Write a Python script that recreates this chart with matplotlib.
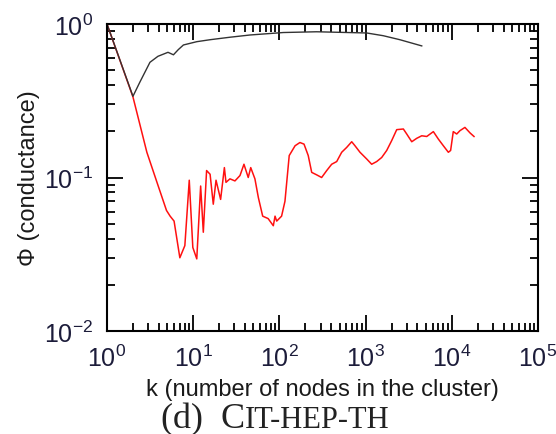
import matplotlib
matplotlib.use('Agg')
import matplotlib.pyplot as plt
from matplotlib.ticker import LogLocator, NullFormatter

# ---- data ----
k_red = [1, 2, 2.9, 3.8, 4.9, 5.4, 6.0, 7.0, 8.0, 9.0, 9.9, 11.0, 12.2, 13.1, 14.3,
         15.7, 17.1, 18.4, 20.8, 23.0, 24.0, 26.7, 30.5, 34.9, 38.8, 43.5, 46.5, 52,
         57, 64, 74, 85, 89, 93, 106, 116, 130, 152, 173, 193, 216, 237, 271, 309,
         354, 404, 462, 528, 603, 690, 753, 861, 1030, 1176, 1344, 1537, 1757, 2008,
         2296, 2742, 3000, 3430, 3920, 4480, 5120, 6110, 6980, 7980, 9120, 9690,
         10400, 11400, 12450, 14200, 16300, 18100]
phi_red = [1.0, 0.335, 0.146, 0.093, 0.061, 0.056, 0.052, 0.030, 0.036, 0.096, 0.035,
           0.0295, 0.088, 0.044, 0.111, 0.105, 0.067, 0.096, 0.072, 0.116, 0.093, 0.098,
           0.095, 0.103, 0.122, 0.100, 0.116, 0.098, 0.074, 0.056, 0.054, 0.0485, 0.056,
           0.052, 0.056, 0.070, 0.139, 0.161, 0.169, 0.165, 0.139, 0.108, 0.104, 0.100,
           0.111, 0.122, 0.127, 0.146, 0.157, 0.171, 0.161, 0.146, 0.132, 0.122, 0.127,
           0.135, 0.150, 0.174, 0.205, 0.207, 0.192, 0.171, 0.180, 0.187, 0.185, 0.199,
           0.178, 0.161, 0.146, 0.150, 0.199, 0.192, 0.202, 0.212, 0.195, 0.185]

k_black = [1, 2, 2.4, 3.15, 3.9, 5.1, 5.9, 6.7, 7.7, 11, 15.7, 26.7, 45.6, 111, 270,
           1030, 1600, 2500, 4480]
phi_black = [1.0, 0.338, 0.417, 0.563, 0.616, 0.654, 0.63, 0.68, 0.73, 0.767, 0.79,
             0.82, 0.848, 0.88, 0.89, 0.874, 0.839, 0.79, 0.72]

x_ticks = [1, 10, 100, 1000, 10000, 100000]
x_tick_labels = ['$10^{0}$', '$10^{1}$', '$10^{2}$', '$10^{3}$', '$10^{4}$', '$10^{5}$']
y_ticks = [0.01, 0.1, 1]
y_tick_labels = ['$10^{-2}$', '$10^{-1}$', '$10^{0}$']

x_label = 'k (number of nodes in the cluster)'
y_label = 'Φ (conductance)'
caption_big = '(d)  C'
caption_small = 'IT-HEP-TH'

# ---- style ----
plt.rcParams['font.family'] = ['Liberation Sans', 'DejaVu Sans']
plt.rcParams['mathtext.fontset'] = 'custom'
plt.rcParams['mathtext.rm'] = 'Liberation Sans'
plt.rcParams['mathtext.it'] = 'Liberation Sans:italic'
plt.rcParams['mathtext.bf'] = 'Liberation Sans:bold'

W, H = 556, 435
fig = plt.figure(figsize=(W / 100, H / 100), dpi=100)
ax = fig.add_axes([107 / W, 103 / H, 431 / W, 307 / H])

ax.plot(k_red, phi_red, color='#ff1010', lw=1.1)
ax.plot(k_black, phi_black, color='#333333', lw=1.0)

ax.set_xscale('log')
ax.set_yscale('log')
ax.set_xlim(1, 1e5)
ax.set_ylim(1e-2, 1)

ax.set_xticks(x_ticks, x_tick_labels)
ax.set_yticks(y_ticks, y_tick_labels)
ax.xaxis.set_minor_locator(LogLocator(base=10, subs=range(2, 10), numticks=100))
ax.yaxis.set_minor_locator(LogLocator(base=10, subs=range(2, 10), numticks=100))
ax.xaxis.set_minor_formatter(NullFormatter())
ax.yaxis.set_minor_formatter(NullFormatter())

lab_color = '#1c1c3a'
ax.tick_params(which='both', direction='in', top=True, right=True, width=1.3,
               colors='black', labelcolor=lab_color)
ax.tick_params(which='major', length=11.5, pad=10, labelsize=18)
ax.tick_params(which='minor', length=6)
for s in ax.spines.values():
    s.set_linewidth(1.5)

ax.set_xlabel(x_label, fontsize=17, color='#1a1a1a', labelpad=5)
ax.set_ylabel(y_label, fontsize=17, color='#1a1a1a', labelpad=3)

# caption with small caps
r = fig.canvas.get_renderer()
t1 = fig.text(161 / W, 7 / H, caption_big, fontsize=26, family='Liberation Serif',
              va='baseline', ha='left', color='#222222')
bb = t1.get_window_extent(r)
fig.text(bb.x1 / W, 7 / H, caption_small, fontsize=22, family='Liberation Serif',
         va='baseline', ha='left', color='#222222')

fig.savefig('out.png', dpi=100)
